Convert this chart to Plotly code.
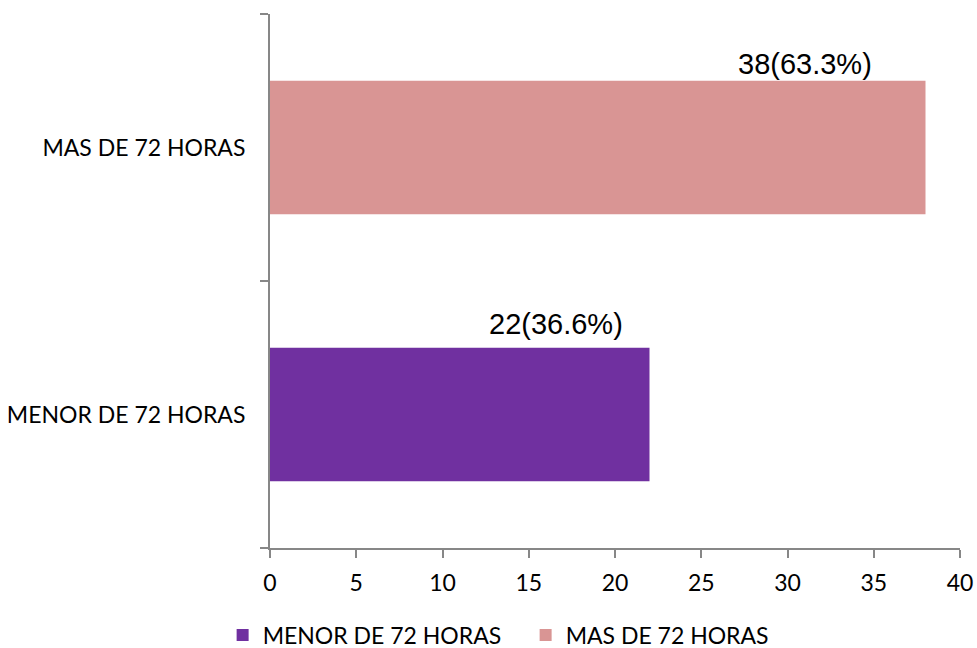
import plotly.graph_objects as go

categories = ["MENOR DE 72 HORAS", "MAS DE 72 HORAS"]
counts = [22, 38]
percent_labels = ["22(36.6%)", "38(63.3%)"]
colors = ["#7030A0", "#D99594"]

# per-label placement offsets (pixels) for the value captions
label_xshift = [-25, -52]
label_yshift = [73, 66]

fig = go.Figure()
for cat, val, col in zip(categories, counts, colors):
    fig.add_trace(go.Bar(
        y=[cat], x=[val], orientation="h", name=cat,
        marker=dict(color=col, line=dict(width=0)),
        width=0.5,
    ))

# value labels sitting just above each bar, near its end
for cat, val, lab, xs, ys in zip(categories, counts, percent_labels, label_xshift, label_yshift):
    fig.add_annotation(
        x=val, y=cat, text=lab, showarrow=False,
        xanchor="right", yanchor="bottom", xshift=xs, yshift=ys,
        font=dict(family="Liberation Sans, Arial", size=29, color="#000000"),
    )

fig.update_layout(
    width=977, height=648,
    margin=dict(l=270, r=17, t=14, b=100, autoexpand=False),
    paper_bgcolor="white", plot_bgcolor="white",
    barmode="overlay",
    font=dict(family="Lato, Open Sans, sans-serif", size=23, color="#000000"),
    showlegend=True,
    legend=dict(orientation="h", x=0.538, xanchor="center", xref="container",
                y=-0.163, yanchor="middle", yref="paper",
                font=dict(size=23), itemwidth=30, traceorder="normal",
                entrywidth=258, entrywidthmode="pixels"),
    xaxis=dict(range=[0, 40], dtick=5, showgrid=False, zeroline=False,
               showline=True, linecolor="#878787", linewidth=2,
               ticks="outside", ticklen=8, tickcolor="#878787", tickwidth=2,
               ticklabelstandoff=5, automargin=False),
    yaxis=dict(type="category", categoryorder="array", categoryarray=categories,
               range=[-0.5, 1.5], showgrid=False, zeroline=False,
               showline=True, linecolor="#878787", linewidth=2,
               ticks="outside", ticklen=8, tickcolor="#878787", tickwidth=2,
               tickson="boundaries", ticklabelstandoff=18, automargin=False),
)

fig.write_html("out.html")
